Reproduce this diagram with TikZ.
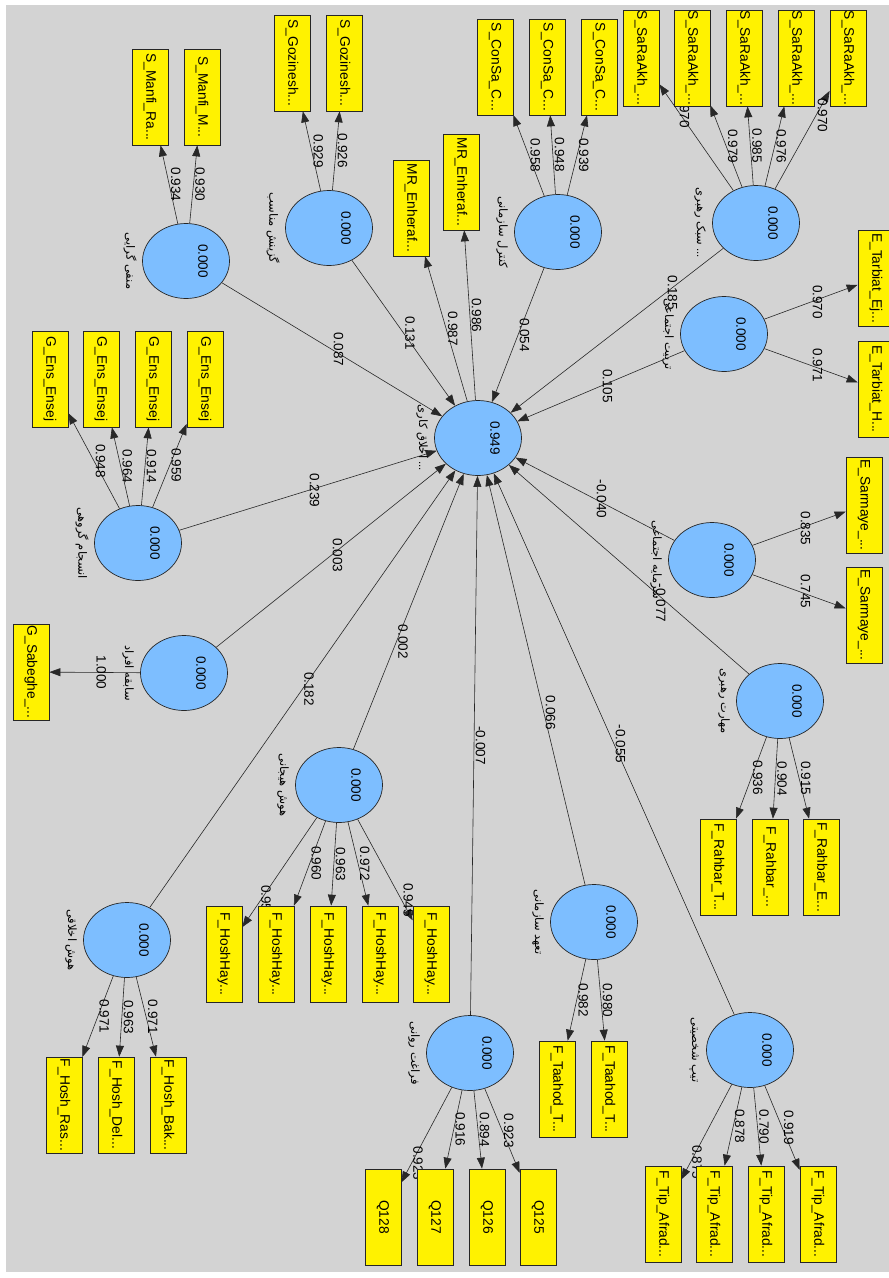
\documentclass[tikz,border=0pt]{standalone}
\usepackage{fontspec}
\setmainfont{Liberation Sans}
\newfontfamily\persfont[Script=Arabic]{DejaVu Sans}
\TeXXeTstate=1
\usetikzlibrary{shapes.geometric,arrows.meta}

\definecolor{lvblue}{RGB}{125,190,255}
\definecolor{bggrey}{RGB}{211,211,211}
\definecolor{linegrey}{RGB}{40,40,40}

\newcommand{\fatext}[1]{{\persfont\beginR #1\endR}}

\pgfdeclarelayer{back}
\pgfdeclarelayer{lines}
\pgfsetlayers{back,lines,main}

\tikzset{
  lv/.style={ellipse, draw=black!85, line width=0.7pt, fill=lvblue,
    minimum width=87pt, minimum height=75pt, inner sep=0pt},
  mv/.style={rectangle, rotate=-90, draw=black!85, line width=0.7pt, fill=yellow,
    minimum width=96pt, minimum height=36pt, inner sep=0pt,
    font=\fontsize{13.8}{13.8}\selectfont},
  link/.style={draw=linegrey, line width=0.6pt, -{Triangle[length=11pt,width=8pt]}},
  lbl/.style={pos=0.5, rotate=-90, anchor=south, inner sep=1.5pt,
    font=\fontsize{13.5}{13.5}\selectfont},
  val/.style={rotate=-90, font=\fontsize{13.5}{13.5}\selectfont},
  lvname/.style={rotate=-90, font=\fontsize{11.5}{11.5}\selectfont}
}

\begin{document}
\begin{tikzpicture}[x=1pt, y=-1pt]
  \useasboundingbox (0,0) rectangle (889,1278);
  \begin{pgfonlayer}{back}
    \fill[white] (0,0) rectangle (889,1278);
    \fill[bggrey] (6,5) rectangle (889,1272);
  \end{pgfonlayer}

  % latent variables
  \node[lv] (dv)  at (478,438)  {};
  \node[lv] (man) at (186,261)  {};
  \node[lv] (goz) at (329,228)  {};
  \node[lv] (con) at (558,232)  {};
  \node[lv] (sab) at (756,223)  {};
  \node[lv] (tar) at (724,334)  {};
  \node[lv] (sar) at (712,560)  {};
  \node[lv] (mah) at (780,701)  {};
  \node[lv] (ens) at (138,543)  {};
  \node[lv] (sbq) at (184,673)  {};
  \node[lv] (hey) at (339,785)  {};
  \node[lv] (akh) at (127,940)  {};
  \node[lv] (far) at (470,1053) {};
  \node[lv] (taa) at (594,922)  {};
  \node[lv] (tip) at (750,1050) {};

  \node[val] at ([xshift=17pt]dv.center) {0.949};
  \foreach \l in {man,goz,con,sab,tar,sar,mah,ens,sbq,hey,akh,far,taa,tip}
    \node[val] at ([xshift=17pt]\l.center) {0.000};

  \node[lvname] at ([xshift=-56pt]dv.center)  {\fatext{اخلاق کاری}\ ...};
  \node[lvname] at ([xshift=-56pt]man.center) {\fatext{منفی گرایی}};
  \node[lvname] at ([xshift=-56pt]goz.center) {\fatext{گزینش مناسب}};
  \node[lvname] at ([xshift=-56pt]con.center) {\fatext{کنترل سازمانی}};
  \node[lvname] at ([xshift=-56pt]sab.center) {\fatext{سبک رهبری}\ ...};
  \node[lvname] at ([xshift=-56pt]tar.center) {\fatext{تربیت اجتماعی}};
  \node[lvname] at ([xshift=-56pt]sar.center) {\fatext{سرمایه اجتماعی}};
  \node[lvname] at ([xshift=-56pt]mah.center) {\fatext{مهارت رهبری}};
  \node[lvname] at ([xshift=-56pt]ens.center) {\fatext{انسجام گروهی}};
  \node[lvname] at ([xshift=-56pt]sbq.center) {\fatext{سابقه افراد}};
  \node[lvname] at ([xshift=-56pt]hey.center) {\fatext{هوش هیجانی}};
  \node[lvname] at ([xshift=-56pt]akh.center) {\fatext{هوش اخلاقی}};
  \node[lvname] at ([xshift=-56pt]far.center) {\fatext{فراغت روانی}};
  \node[lvname] at ([xshift=-56pt]taa.center) {\fatext{تعهد سازمانی}};
  \node[lvname] at ([xshift=-56pt]tip.center) {\fatext{تیپ شخصیتی}};

  % indicators
  \node[mv] (man1) at (150,97) {S\_Manfi\_Ra...};
  \node[mv] (man2) at (202,97) {S\_Manfi\_M...};
  \node[mv] (goz1) at (292,63) {S\_Gozinesh...};
  \node[mv] (goz2) at (344,63) {S\_Gozinesh...};
  \node[mv] (mr1)  at (411,208) {MR\_Enheraf...};
  \node[mv] (mr2)  at (461,182) {MR\_Enheraf...};
  \foreach \n/\x in {1/495,2/547,3/599}
    \node[mv] (con\n) at (\x,67) {S\_ConSa\_C...};
  \foreach \n/\x in {1/641,2/692,3/744,4/796,5/848}
    \node[mv] (sab\n) at (\x,58) {S\_SaRaAkh\_...};
  \node[mv] (tar1) at (876,278) {E\_Tarbiat\_Ej...};
  \node[mv] (tar2) at (876,389) {E\_Tarbiat\_H...};
  \node[mv] (sar1) at (864,505) {E\_Sarmaye\_...};
  \node[mv] (sar2) at (864,615) {E\_Sarmaye\_...};
  \foreach \n/\x in {1/50,2/101,3/153,4/205}
    \node[mv] (ens\n) at (\x,379) {G\_Ens\_Ensej};
  \node[mv] (sbq1) at (31,672) {G\_Sabeghe\_...};
  \foreach \n/\x in {1/224,2/276,3/328,4/380,5/431}
    \node[mv] (hey\n) at (\x,954) {F\_HoshHay...};
  \node[mv] (akh1) at (64,1105)  {F\_Hosh\_Ras...};
  \node[mv] (akh2) at (116,1105) {F\_Hosh\_Del...};
  \node[mv] (akh3) at (168,1105) {F\_Hosh\_Bak...};
  \node[mv] (far1) at (383,1217) {Q128};
  \node[mv] (far2) at (435,1217) {Q127};
  \node[mv] (far3) at (487,1217) {Q126};
  \node[mv] (far4) at (538,1217) {Q125};
  \node[mv] (taa1) at (557,1089) {F\_Taahod\_T...};
  \node[mv] (taa2) at (609,1089) {F\_Taahod\_T...};
  \foreach \n/\x in {1/663,2/714,3/766,4/818}
    \node[mv] (tip\n) at (\x,1214) {F\_Tip\_Afrad...};
  \node[mv] (mah1) at (718,867) {F\_Rahbar\_T...};
  \node[mv] (mah2) at (770,867) {F\_Rahbar\_...};
  \node[mv] (mah3) at (821,867) {F\_Rahbar\_E...};

  \begin{pgfonlayer}{lines}
    % loadings
    \foreach \l/\n/\v/\p in {man/1/0.934/0.5, man/2/0.930/0.5,
        goz/1/0.929/0.5, goz/2/0.926/0.5,
        con/1/0.958/0.5, con/2/0.948/0.5, con/3/0.939/0.5,
        sab/1/0.970/0.75, sab/2/0.979/0.5, sab/3/0.985/0.5, sab/4/0.976/0.5, sab/5/0.970/0.75,
        tar/1/0.970/0.5, tar/2/0.971/0.5,
        sar/1/0.835/0.5, sar/2/0.745/0.5,
        mah/1/0.936/0.5, mah/2/0.904/0.5, mah/3/0.915/0.5,
        ens/1/0.948/0.5, ens/2/0.964/0.5, ens/3/0.914/0.5, ens/4/0.959/0.5,
        sbq/1/1.000/0.5,
        hey/1/0.957/0.77, hey/2/0.960/0.5, hey/3/0.963/0.5, hey/4/0.972/0.5, hey/5/0.945/0.8,
        akh/1/0.971/0.5, akh/2/0.963/0.5, akh/3/0.971/0.5,
        far/1/0.923/0.8, far/2/0.916/0.5, far/3/0.894/0.5, far/4/0.923/0.5,
        taa/1/0.982/0.5, taa/2/0.980/0.5,
        tip/1/0.875/0.82, tip/2/0.878/0.5, tip/3/0.790/0.5, tip/4/0.919/0.5}
      \draw[link] (\l) -- (\l\n) node[lbl, pos=\p] {\v};
    \draw[link] (dv) -- (mr1) node[lbl] {0.987};
    \draw[link] (dv) -- (mr2) node[lbl] {0.986};

    % paths
    \foreach \l/\v/\p in {man/0.087/0.5, goz/0.131/0.5, con/0.054/0.5,
        sab/0.185/0.27, tar/0.105/0.5, sar/-0.040/0.5, tip/-0.055/0.5,
        taa/0.066/0.42, far/-0.007/0.5, hey/0.002/0.39, akh/0.182/0.5,
        sbq/0.003/0.5, ens/0.239/0.5}
      \draw[link] (\l) -- (dv) node[lbl, pos=\p] {\v};
    \draw[link] (mah) -- (dv) node[lbl, pos=0.34, anchor=north] {-0.077};
  \end{pgfonlayer}
\end{tikzpicture}
\end{document}
